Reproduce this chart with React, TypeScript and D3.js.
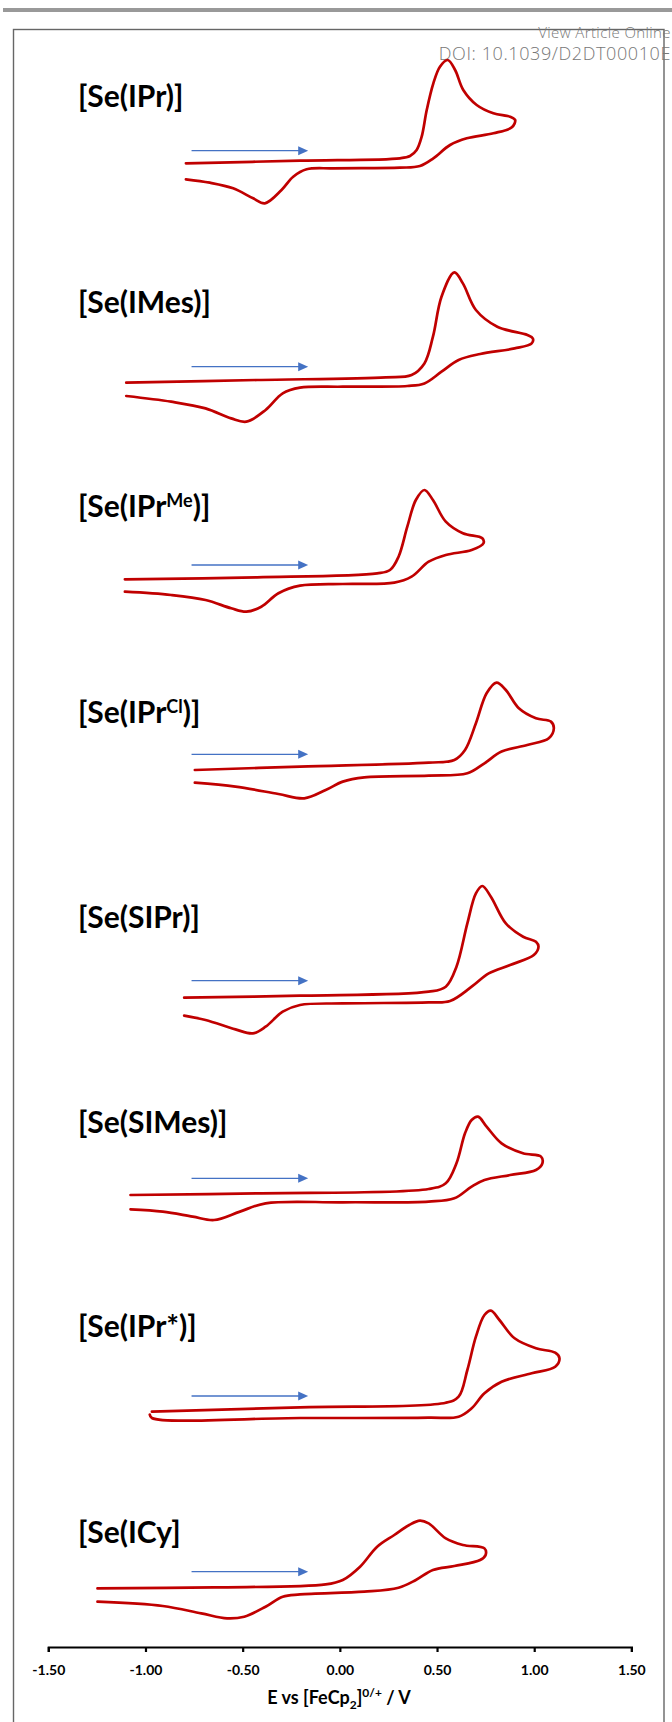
import React, { useEffect, useRef } from 'react';
import * as d3 from 'd3';

// cyclic voltammograms of the [Se(NHC)] complexes
// potential in V vs FeCp2 0/+, current in arbitrary units (anodic up), scan order
const ligands = ['IPr', 'IMes', 'IPr', 'IPr', 'SIPr', 'SIMes', 'IPr*', 'ICy'];
const ligandSup = ['', '', 'Me', 'Cl', '', '', '', ''];
const closing = [')]', ')]', ')]', ')]', ')]', ')]', ')]', ']'];

const ipr = [
  [-0.792, -12.6], [-0.205, -10.0], [0.309, -7.6], [0.361, -5.3], [0.395, 0.7], [0.421, 14.0],
  [0.447, 40.7], [0.481, 67.4], [0.515, 84.0], [0.555, 90.7], [0.593, 80.7], [0.635, 60.7],
  [0.704, 45.7], [0.790, 37.4], [0.876, 34.0], [0.902, 30.7], [0.885, 23.4], [0.790, 17.4],
  [0.653, 12.4], [0.567, 5.7], [0.481, -7.6], [0.412, -15.3], [0.309, -17.0], [-0.034, -17.6],
  [-0.171, -18.6], [-0.240, -26.0], [-0.300, -39.3], [-0.386, -52.6], [-0.446, -47.6],
  [-0.549, -37.6], [-0.669, -32.0], [-0.792, -28.6],
];
const imes = [
  [-1.099, -16.0], [-0.426, -13.3], [0.236, -10.7], [0.369, -8.3], [0.435, 3.3], [0.479, 30.0],
  [0.523, 70.0], [0.589, 94.3], [0.633, 83.3], [0.700, 56.7], [0.810, 40.0], [0.965, 31.7],
  [0.993, 28.3], [0.987, 23.3], [0.899, 18.3], [0.722, 12.7], [0.611, 6.7], [0.523, -5.0],
  [0.435, -16.7], [0.347, -19.3], [0.015, -20.0], [-0.205, -21.0], [-0.294, -26.7],
  [-0.382, -43.3], [-0.481, -55.0], [-0.559, -51.7], [-0.691, -41.7], [-0.868, -35.0],
  [-1.099, -29.3],
];
const iprMe = [
  [-1.106, -14.3], [-0.426, -12.3], [0.192, -8.3], [0.258, -5.0], [0.302, 8.3], [0.347, 38.3],
  [0.391, 65.0], [0.435, 75.0], [0.479, 65.0], [0.545, 43.3], [0.633, 31.7], [0.733, 26.7],
  [0.739, 21.7], [0.678, 15.0], [0.545, 10.0], [0.457, 3.3], [0.369, -11.7], [0.280, -17.7],
  [0.015, -19.0], [-0.205, -20.7], [-0.316, -28.3], [-0.404, -41.7], [-0.481, -46.7],
  [-0.559, -43.3], [-0.691, -35.0], [-0.868, -30.0], [-1.106, -26.7],
];
const iprCl = [
  [-0.746, -15.7], [-0.205, -12.3], [0.457, -8.3], [0.589, -5.7], [0.644, 4.3], [0.700, 31.0],
  [0.755, 61.0], [0.806, 71.7], [0.854, 64.3], [0.921, 46.0], [1.009, 36.0], [1.086, 32.7],
  [1.101, 26.0], [1.075, 16.0], [0.964, 9.3], [0.832, 2.7], [0.744, -9.0], [0.656, -19.0],
  [0.457, -21.3], [0.126, -23.0], [0.015, -27.3], [-0.073, -35.7], [-0.183, -44.0],
  [-0.316, -39.7], [-0.537, -32.3], [-0.746, -28.3],
];
const sipr = [
  [-0.801, -17.0], [-0.205, -15.0], [0.457, -11.0], [0.545, -6.0], [0.600, 14.0], [0.656, 57.3],
  [0.700, 87.3], [0.733, 94.7], [0.777, 84.0], [0.854, 57.3], [0.943, 44.0], [1.009, 39.0],
  [1.022, 34.0], [0.998, 25.7], [0.876, 15.7], [0.766, 7.3], [0.678, -6.0], [0.567, -20.3],
  [0.457, -21.7], [0.015, -22.7], [-0.205, -24.3], [-0.294, -31.0], [-0.382, -46.0],
  [-0.448, -52.7], [-0.537, -48.7], [-0.691, -39.3], [-0.801, -35.0],
];
const simes = [
  [-1.077, -16.7], [-0.426, -15.0], [0.457, -10.7], [0.545, -5.0], [0.600, 15.0], [0.644, 45.0],
  [0.678, 58.3], [0.711, 61.7], [0.755, 51.7], [0.832, 35.0], [0.942, 25.0], [1.035, 21.7],
  [1.042, 15.0], [1.009, 8.3], [0.876, 3.3], [0.744, -1.7], [0.678, -8.3], [0.589, -20.0],
  [0.457, -23.3], [0.015, -24.0], [-0.382, -25.0], [-0.514, -33.3], [-0.647, -41.7],
  [-0.757, -38.3], [-0.911, -33.3], [-1.077, -31.0],
];
const iprStar = [
  [-0.967, -15.7], [-0.205, -11.3], [0.545, -6.7], [0.611, -0.7], [0.656, 26.0], [0.700, 59.3],
  [0.744, 81.0], [0.777, 85.3], [0.821, 76.0], [0.899, 57.7], [1.009, 47.7], [1.108, 43.3],
  [1.130, 37.7], [1.108, 29.3], [0.987, 22.7], [0.832, 14.3], [0.744, 2.7], [0.678, -12.3],
  [0.611, -20.7], [0.457, -21.7], [-0.205, -22.0], [-0.967, -22.0], [-0.978, -18.5],
];
const icy = [
  [-1.247, -16.7], [-0.647, -15.7], [-0.073, -12.7], [0.015, -8.3], [0.104, 5.0], [0.192, 25.0],
  [0.280, 36.7], [0.357, 46.7], [0.412, 51.0], [0.457, 48.3], [0.545, 33.3], [0.633, 26.7],
  [0.744, 23.3], [0.750, 16.7], [0.722, 11.7], [0.589, 5.7], [0.479, 1.7], [0.391, -8.3],
  [0.302, -16.0], [0.126, -20.0], [-0.205, -22.7], [-0.294, -25.0], [-0.382, -35.0],
  [-0.492, -45.0], [-0.580, -46.7], [-0.713, -41.7], [-0.911, -34.3], [-1.247, -30.0],
];
const scans = [ipr, imes, iprMe, iprCl, sipr, simes, iprStar, icy];

// scan direction arrow, V
const arrowE = [-0.763, -0.163];

const tickValues = [-1.5, -1.0, -0.5, 0, 0.5, 1.0, 1.5];
const tickLabels = ['-1.50', '-1.00', '-0.50', '0.00', '0.50', '1.00', '1.50'];

// layout
const W = 672, H = 1722;
const panelZero = [150.7, 366.7, 565, 754.3, 980.7, 1178.3, 1396, 1571.7];
const labelBase = [106.7, 312.7, 517.3, 723.3, 928.3, 1132.7, 1336.7, 1542.7];
const axisY = 1647;
const font = 'Lato, "Open Sans", sans-serif';
const headFont = '"Open Sans", Lato, sans-serif';

const x = d3.scaleLinear().domain([-1.5, 1.5]).range([48.3, 631.4]);

const Panel = ({ k }: { k: number }) => {
  const y = d3.scaleLinear().domain([0, 100]).range([panelZero[k], panelZero[k] - 100]);
  const line = d3.line<number[]>()
    .x(d => x(d[0]))
    .y(d => y(d[1]))
    .curve(d3.curveCatmullRom.alpha(0.5));
  const ax0 = x(arrowE[0]), ax1 = x(arrowE[1]), ay = y(0);
  return (
    <g>
      <text x={78} y={labelBase[k]} fontFamily={font} fontWeight="bold" fontSize={30} fill="#000">
        {'[Se(' + ligands[k]}
        {ligandSup[k] && <tspan dy={-10} fontSize={18}>{ligandSup[k]}</tspan>}
        <tspan dy={ligandSup[k] ? 10 : 0}>{closing[k]}</tspan>
      </text>
      <line x1={ax0} x2={ax1 - 8} y1={ay} y2={ay} stroke="#4472C4" strokeWidth={1.3} />
      <path d={`M${ax1},${ay}L${ax1 - 10},${ay - 4.5}L${ax1 - 10},${ay + 4.5}Z`} fill="#4472C4" />
      <path d={line(scans[k]) || ''} fill="none" stroke="#C00000" strokeWidth={2.7}
        strokeLinejoin="round" strokeLinecap="round" />
    </g>
  );
};

export default function App() {
  const axisRef = useRef<SVGGElement>(null);

  useEffect(() => {
    const g = d3.select(axisRef.current);
    g.selectAll('*').remove();
    g.call(
      d3.axisBottom(x)
        .tickValues(tickValues)
        .tickFormat((_d, i) => tickLabels[i])
        .tickSize(5)
        .tickSizeOuter(5)
        .tickPadding(13)
    );
    g.select('.domain').attr('stroke', '#000').attr('stroke-width', 2.2);
    g.selectAll('.tick line').attr('stroke', '#000').attr('stroke-width', 2.2);
    g.selectAll('.tick text')
      .attr('font-family', font)
      .attr('font-weight', 'bold')
      .attr('font-size', 14)
      .attr('fill', '#000');
  }, []);

  return (
    <svg width={W} height={H} style={{ position: 'absolute', left: 0, top: 0, background: '#fff' }}>
      <rect x={3} y={8} width={W - 3} height={4} fill="#999" />
      <rect x={13.5} y={29.5} width={650.5} height={H} fill="none" stroke="#666" strokeWidth={1.4} />
      <text x={671} y={37.5} textAnchor="end" fontFamily={headFont} fontWeight={300} fontSize={15}
        letterSpacing={0.4} fill="#777">View Article Online</text>
      <text x={671} y={59.5} textAnchor="end" fontFamily={headFont} fontWeight={300} fontSize={18}
        letterSpacing={0.6} fill="#777">DOI: 10.1039/D2DT00010E</text>
      {scans.map((_s, k) => <Panel key={k} k={k} />)}
      <g ref={axisRef} transform={`translate(0,${axisY})`} />
      <text x={339} y={1704} textAnchor="middle" fontFamily={font} fontWeight="bold" fontSize={18} fill="#000">
        E vs [FeCp<tspan dy={5} fontSize={12}>2</tspan><tspan dy={-5}>]</tspan>
        <tspan dy={-7} fontSize={12}>0/+</tspan><tspan dy={7}> / V</tspan>
      </text>
    </svg>
  );
}
